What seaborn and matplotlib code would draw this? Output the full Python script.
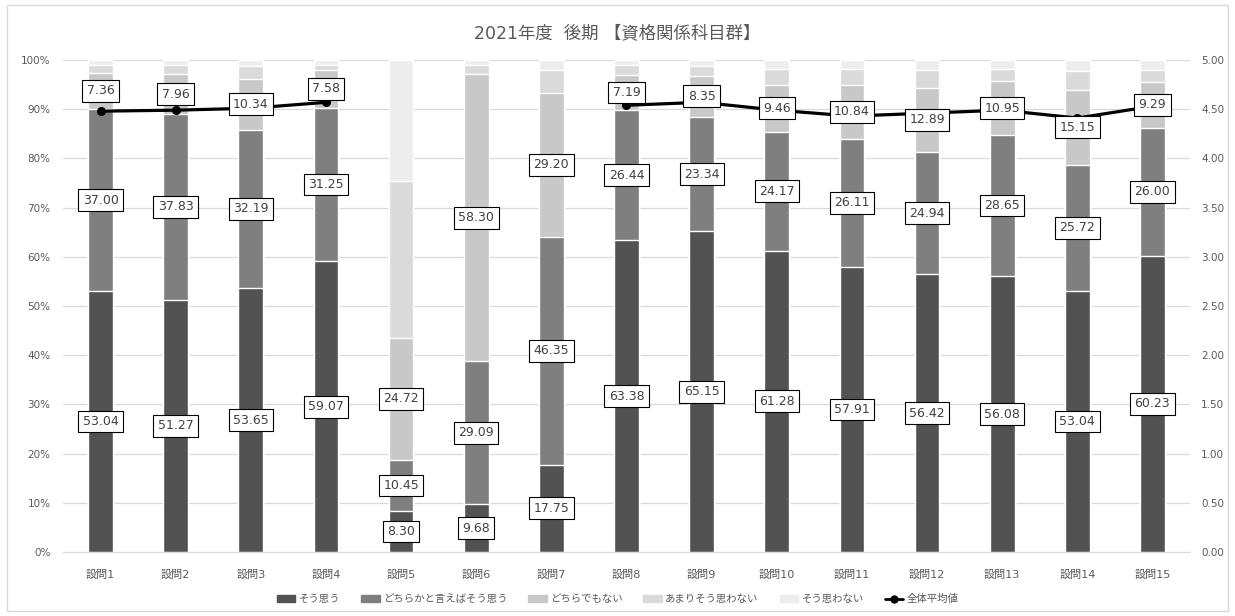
import numpy as np
import matplotlib.pyplot as plt
import seaborn as sns
from matplotlib.lines import Line2D
from matplotlib.patches import Patch, Rectangle

# data
questions = [f"設問{i}" for i in range(1, 16)]
series_names = ["そう思う", "どちらかと言えばそう思う", "どちらでもない", "あまりそう思わない", "そう思わない"]
s1 = [53.04, 51.27, 53.65, 59.07, 8.30, 9.68, 17.75, 63.38, 65.15, 61.28, 57.91, 56.42, 56.08, 53.04, 60.23]
s2 = [37.00, 37.83, 32.19, 31.25, 10.45, 29.09, 46.35, 26.44, 23.34, 24.17, 26.11, 24.94, 28.65, 25.72, 26.00]
s3 = [7.36, 7.96, 10.34, 7.58, 24.72, 58.30, 29.20, 7.19, 8.35, 9.46, 10.84, 12.89, 10.95, 15.15, 9.29]
s4 = [1.60, 1.94, 2.62, 1.10, 32.00, 1.93, 4.75, 1.89, 2.00, 3.30, 3.30, 3.75, 2.52, 3.89, 2.48]
s5 = [1.00, 1.00, 1.20, 1.00, 24.53, 1.00, 1.95, 1.10, 1.16, 1.79, 1.84, 2.00, 1.80, 2.20, 2.00]
avg = [4.48, 4.49, 4.51, 4.57, np.nan, np.nan, np.nan, 4.54, 4.57, 4.49, 4.43, 4.46, 4.49, 4.41, 4.53]
avg_name = "全体平均値"
colors = ["#525252", "#7f7f7f", "#c8c8c8", "#dadada", "#ededed"]

sns.set_style("white")
plt.rcParams['font.family'] = ['DejaVu Sans', 'Noto Sans CJK JP']

fig = plt.figure(figsize=(12.35, 6.16), dpi=100)
ax = fig.add_axes([63 / 1235, 1 - 552 / 616, 1127 / 1235, 492 / 616])

stack = np.array([s1, s2, s3, s4, s5])
cum = np.cumsum(stack, axis=0)

# overlay cumulative bars, tallest first
for k in reversed(range(5)):
    sns.barplot(x=questions, y=cum[k], color=colors[k], width=0.33,
                saturation=1, ax=ax, zorder=2)

ax.set_ylim(0, 100)
ax.set_xlim(-0.5, 14.5)
ax.set_yticks(range(0, 101, 10))
ax.set_yticklabels([f"{v}%" for v in range(0, 101, 10)])
ax.yaxis.grid(True, color="#d9d9d9", lw=0.9)
ax.set_axisbelow(True)
for sp in ["left", "right", "top"]:
    ax.spines[sp].set_visible(False)
ax.spines["bottom"].set_color("#d9d9d9")
ax.tick_params(axis="y", length=0, labelsize=7.5, labelcolor="#595959", pad=9)
ax.tick_params(axis="x", length=0, labelsize=8, labelcolor="#595959", pad=13)
ax.set_xlabel("")
ax.set_ylabel("")

ax2 = ax.twinx()
ax2.plot(range(15), avg, color="black", lw=2.3, marker="o", ms=5.5, zorder=2)
ax2.set_ylim(0, 5)
ax2.set_yticks(np.arange(0, 5.01, 0.5))
ax2.set_yticklabels([f"{v:.2f}" for v in np.arange(0, 5.01, 0.5)])
ax2.tick_params(axis="y", length=0, labelsize=7.5, labelcolor="#595959", pad=8)
for sp in ax2.spines.values():
    sp.set_visible(False)

# data labels for first three series, centred on each segment
for k in range(3):
    for i in range(15):
        centre = cum[k][i] - stack[k][i] / 2
        ax2.text(i, centre, f"{stack[k][i]:.2f}", transform=ax.transData,
                 ha="center", va="center", fontsize=9, color="#404040",
                 bbox=dict(boxstyle="square,pad=0.35", fc="white", ec="black", lw=0.8),
                 zorder=5)

fig.text(0.5, 1 - 33 / 616, "2021年度  後期 【資格関係科目群】", ha="center", va="center",
         fontsize=12.5, color="#595959")

handles = [Patch(color=c, label=n) for c, n in zip(colors, series_names)]
handles.append(Line2D([], [], color="black", lw=2, marker="o", ms=5, label=avg_name))
fig.legend(handles=handles, loc="center", bbox_to_anchor=(0.5, 1 - 599 / 616), ncol=6,
           frameon=False, fontsize=7.5, handlelength=1.8, handleheight=0.6,
           columnspacing=2.0, handletextpad=0.3, labelcolor="#595959")

fig.patches.append(Rectangle((0.006, 0.008), 0.988, 0.984, transform=fig.transFigure,
                             fill=False, edgecolor="#d9d9d9", lw=1))

plt.savefig("out.png", dpi=100)
plt.close()
